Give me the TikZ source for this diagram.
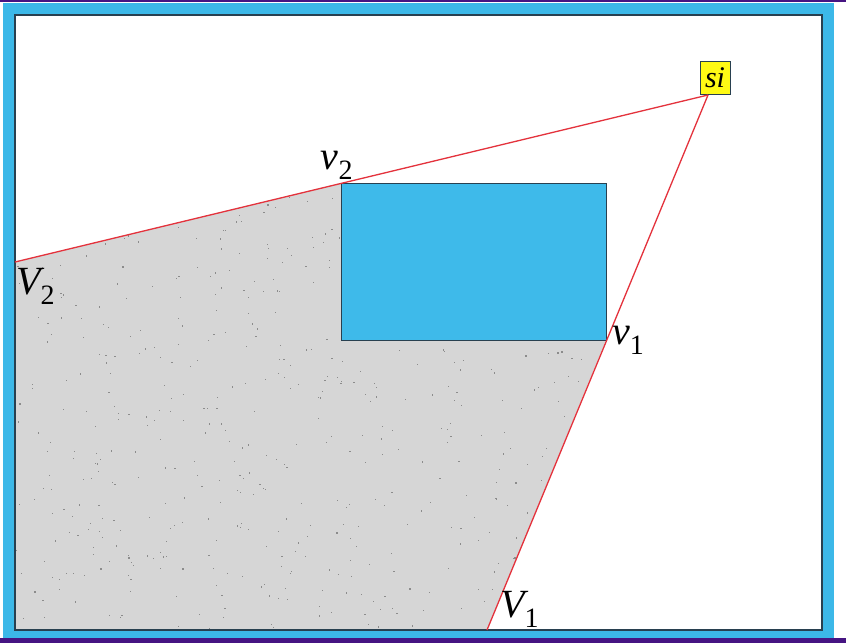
\documentclass[tikz,border=0pt]{standalone}
\usepackage{fontspec}
\setmainfont{Liberation Serif}
\definecolor{frameblue}{RGB}{60,184,232}
\definecolor{rectblue}{RGB}{62,186,234}
\definecolor{darkedge}{RGB}{40,64,80}
\definecolor{purpleline}{RGB}{70,20,130}
\definecolor{shadegray}{RGB}{214,214,214}
\definecolor{speck}{RGB}{140,140,140}
\definecolor{redline}{RGB}{228,50,60}
\definecolor{siyellow}{RGB}{255,250,20}
\tikzset{
  ray/.style={draw=redline, line width=1.3pt},
  lbl/.style={font=\fontsize{40}{44}\selectfont\itshape, inner sep=0pt},
  sibox/.style={draw=darkedge, fill=siyellow, line width=1pt, minimum width=30pt, minimum height=33pt, inner sep=0pt, font=\fontsize{30}{32}\selectfont\itshape},
  obstacle/.style={draw=darkedge, fill=rectblue, line width=1pt}
}
\begin{document}
\begin{tikzpicture}[x=1pt,y=-1pt]
\useasboundingbox (0,0) rectangle (846,643);
\fill[white] (0,0) rectangle (846,643);
% purple lines
\fill[purpleline] (0,0) rectangle (846,2);
\fill[purpleline] (0,638) rectangle (846,643);
% frame
\fill[frameblue] (3,3) rectangle (834,638);
\fill[white] (15,15) rectangle (822,630);
% key points
\coordinate (apex) at (708,95);
\coordinate (V2) at (15,262);
\coordinate (V1) at (487,630);
\coordinate (v2) at (341,183);
\coordinate (v1) at (606,340);
% shaded region
\fill[shadegray] (V2) -- (v2) -- (341,340) -- (v1) -- (V1) -- (15,630) -- cycle;
\begin{scope}
\clip (V2) -- (v2) -- (341,340) -- (v1) -- (V1) -- (15,630) -- cycle;
\pgfmathsetseed{7}
\foreach \i in {1,...,600}{
  \pgfmathsetmacro{\px}{15+rnd*600}
  \pgfmathsetmacro{\py}{180+rnd*450}
  \fill[speck] (\px,\py) rectangle ++(1.2,1.2);
}
\end{scope}
\draw[darkedge, line width=1.2pt] (15,15) rectangle (822,630);
% obstacle
\draw[obstacle] (v2) rectangle (v1);
% rays
\node[sibox] (si) at (715,78) {si};
\draw[ray] (apex) -- (V2);
\draw[ray] (apex) -- (V1);
% labels
\node[lbl, anchor=south] (lv2) at (337,180) {v\textsubscript{\upshape 2}};
\node[lbl, anchor=north west] (lV2) at (16,268) {V\textsubscript{\upshape 2}};
\node[lbl, anchor=west] (lv1) at (612,340) {v\textsubscript{\upshape 1}};
\node[lbl, anchor=south west] (lV1) at (500,628) {V\textsubscript{\upshape 1}};
\end{tikzpicture}
\end{document}
